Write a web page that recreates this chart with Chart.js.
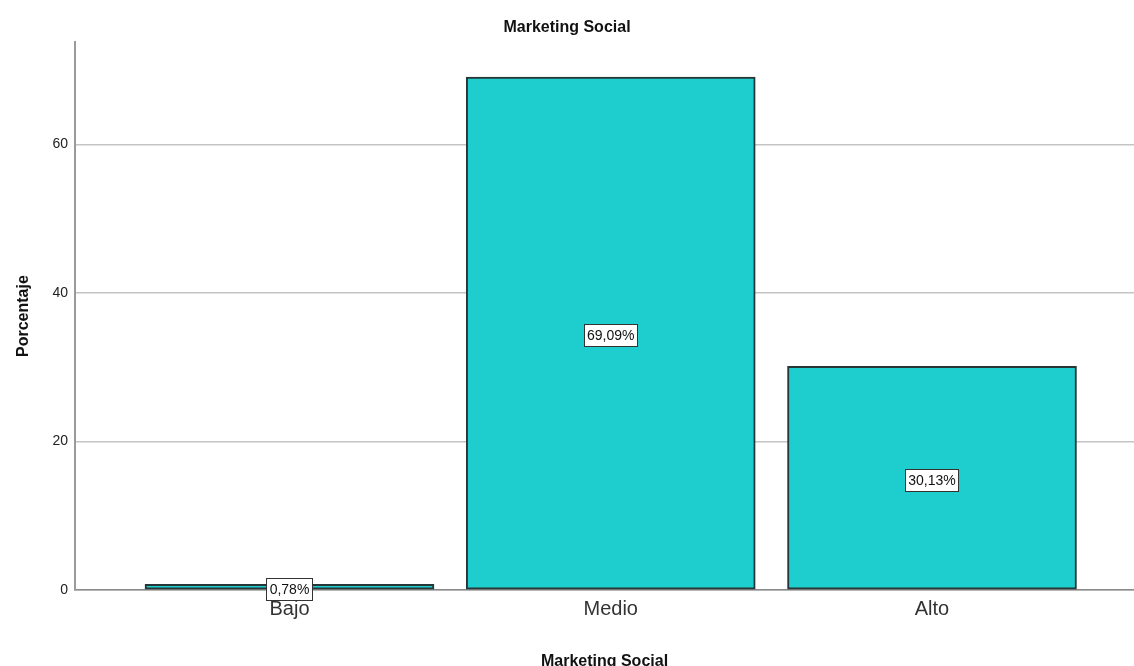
<!DOCTYPE html>
<html>
<head>
<meta charset="utf-8">
<title>Marketing Social</title>
<script src="https://cdn.jsdelivr.net/npm/chart.js@4"></script>
<style>
  html, body { margin:0; padding:0; background:#fff; overflow:hidden; }
  #wrap { width:1134px; height:666px; }
</style>
</head>
<body>
<div id="wrap"><canvas id="chart" width="1134" height="666"></canvas></div>
<script>
// DATA
const categories = ["Bajo", "Medio", "Alto"];
const percents = [0.78, 69.09, 30.13];
const percentLabels = ["0,78%", "69,09%", "30,13%"];
const yTicks = [0, 20, 40, 60];

Chart.defaults.font.family = "'Liberation Sans', Arial, sans-serif";
Chart.defaults.color = "#222";

// white boxes with the percentage in the middle of each bar
const boxLabels = {
  id: "boxLabels",
  afterDatasetsDraw(chart){
    const ctx = chart.ctx;
    const meta = chart.getDatasetMeta(0);
    ctx.save();
    ctx.font = "14px 'Liberation Sans', Arial, sans-serif";
    ctx.textAlign = "center";
    ctx.textBaseline = "middle";
    meta.data.forEach((bar, i) => {
      const txt = percentLabels[i];
      const cx = bar.x;
      const cy = (bar.y + bar.base) / 2 + 2;
      const w = Math.round(ctx.measureText(txt).width + 6);
      const h = 22;
      const bx = Math.round(cx - w/2) + 0.5;
      const by = Math.round(cy - h/2) + 0.5;
      ctx.fillStyle = "#fff";
      ctx.fillRect(bx, by, w, h);
      ctx.strokeStyle = "#333";
      ctx.lineWidth = 1;
      ctx.strokeRect(bx, by, w, h);
      ctx.fillStyle = "#111";
      ctx.fillText(txt, cx, cy + 1);
    });
    ctx.restore();
  }
};

new Chart(document.getElementById("chart"), {
  type: "bar",
  data: {
    datasets: [{
      data: percents.map((v, i) => ({ x: i, y: v })),
      backgroundColor: "#1ecece",
      borderColor: "#263637",
      borderWidth: 2,
      borderSkipped: false,
      barThickness: 289
    }]
  },
  options: {
    responsive: false,
    animation: false,
    layout: { padding: 0 },
    plugins: {
      legend: { display: false },
      tooltip: { enabled: false },
      title: {
        display: true,
        text: "Marketing Social",
        font: { size: 16, weight: "bold" },
        color: "#111",
        padding: { top: 18, bottom: 5 }
      }
    },
    scales: {
      x: {
        type: "linear",
        offset: false,
        min: -0.6677,
        max: 2.6288,
        afterBuildTicks: s => { s.ticks = categories.map((c, i) => ({ value: i })); },
        afterFit: s => { s.height = 76; },
        grid: { display: false, drawTicks: false, offset: false },
        border: { display: true, color: "#8a8a8a", width: 1.5 },
        ticks: {
          padding: 7,
          font: { size: 20 },
          color: "#333",
          callback: v => categories[v] ?? ""
        },
        title: {
          display: true,
          text: "Marketing Social",
          font: { size: 16, weight: "bold" },
          color: "#111",
          padding: { top: 0, bottom: -5 }
        }
      },
      y: {
        min: 0,
        max: 73.8,
        afterBuildTicks: s => { s.ticks = yTicks.map(v => ({ value: v })); },
        afterFit: s => { s.width = 75; },
        grid: { color: "#c4c4c4", lineWidth: 1.5, drawTicks: false },
        border: { display: true, color: "#9a9a9a", width: 2 },
        ticks: {
          padding: 7,
          font: { size: 14 },
          color: "#222"
        },
        title: {
          display: true,
          text: "Porcentaje",
          font: { size: 16, weight: "bold" },
          color: "#111",
          padding: { top: 14, bottom: 0 }
        }
      }
    }
  },
  plugins: [boxLabels]
});
</script>
</body>
</html>
